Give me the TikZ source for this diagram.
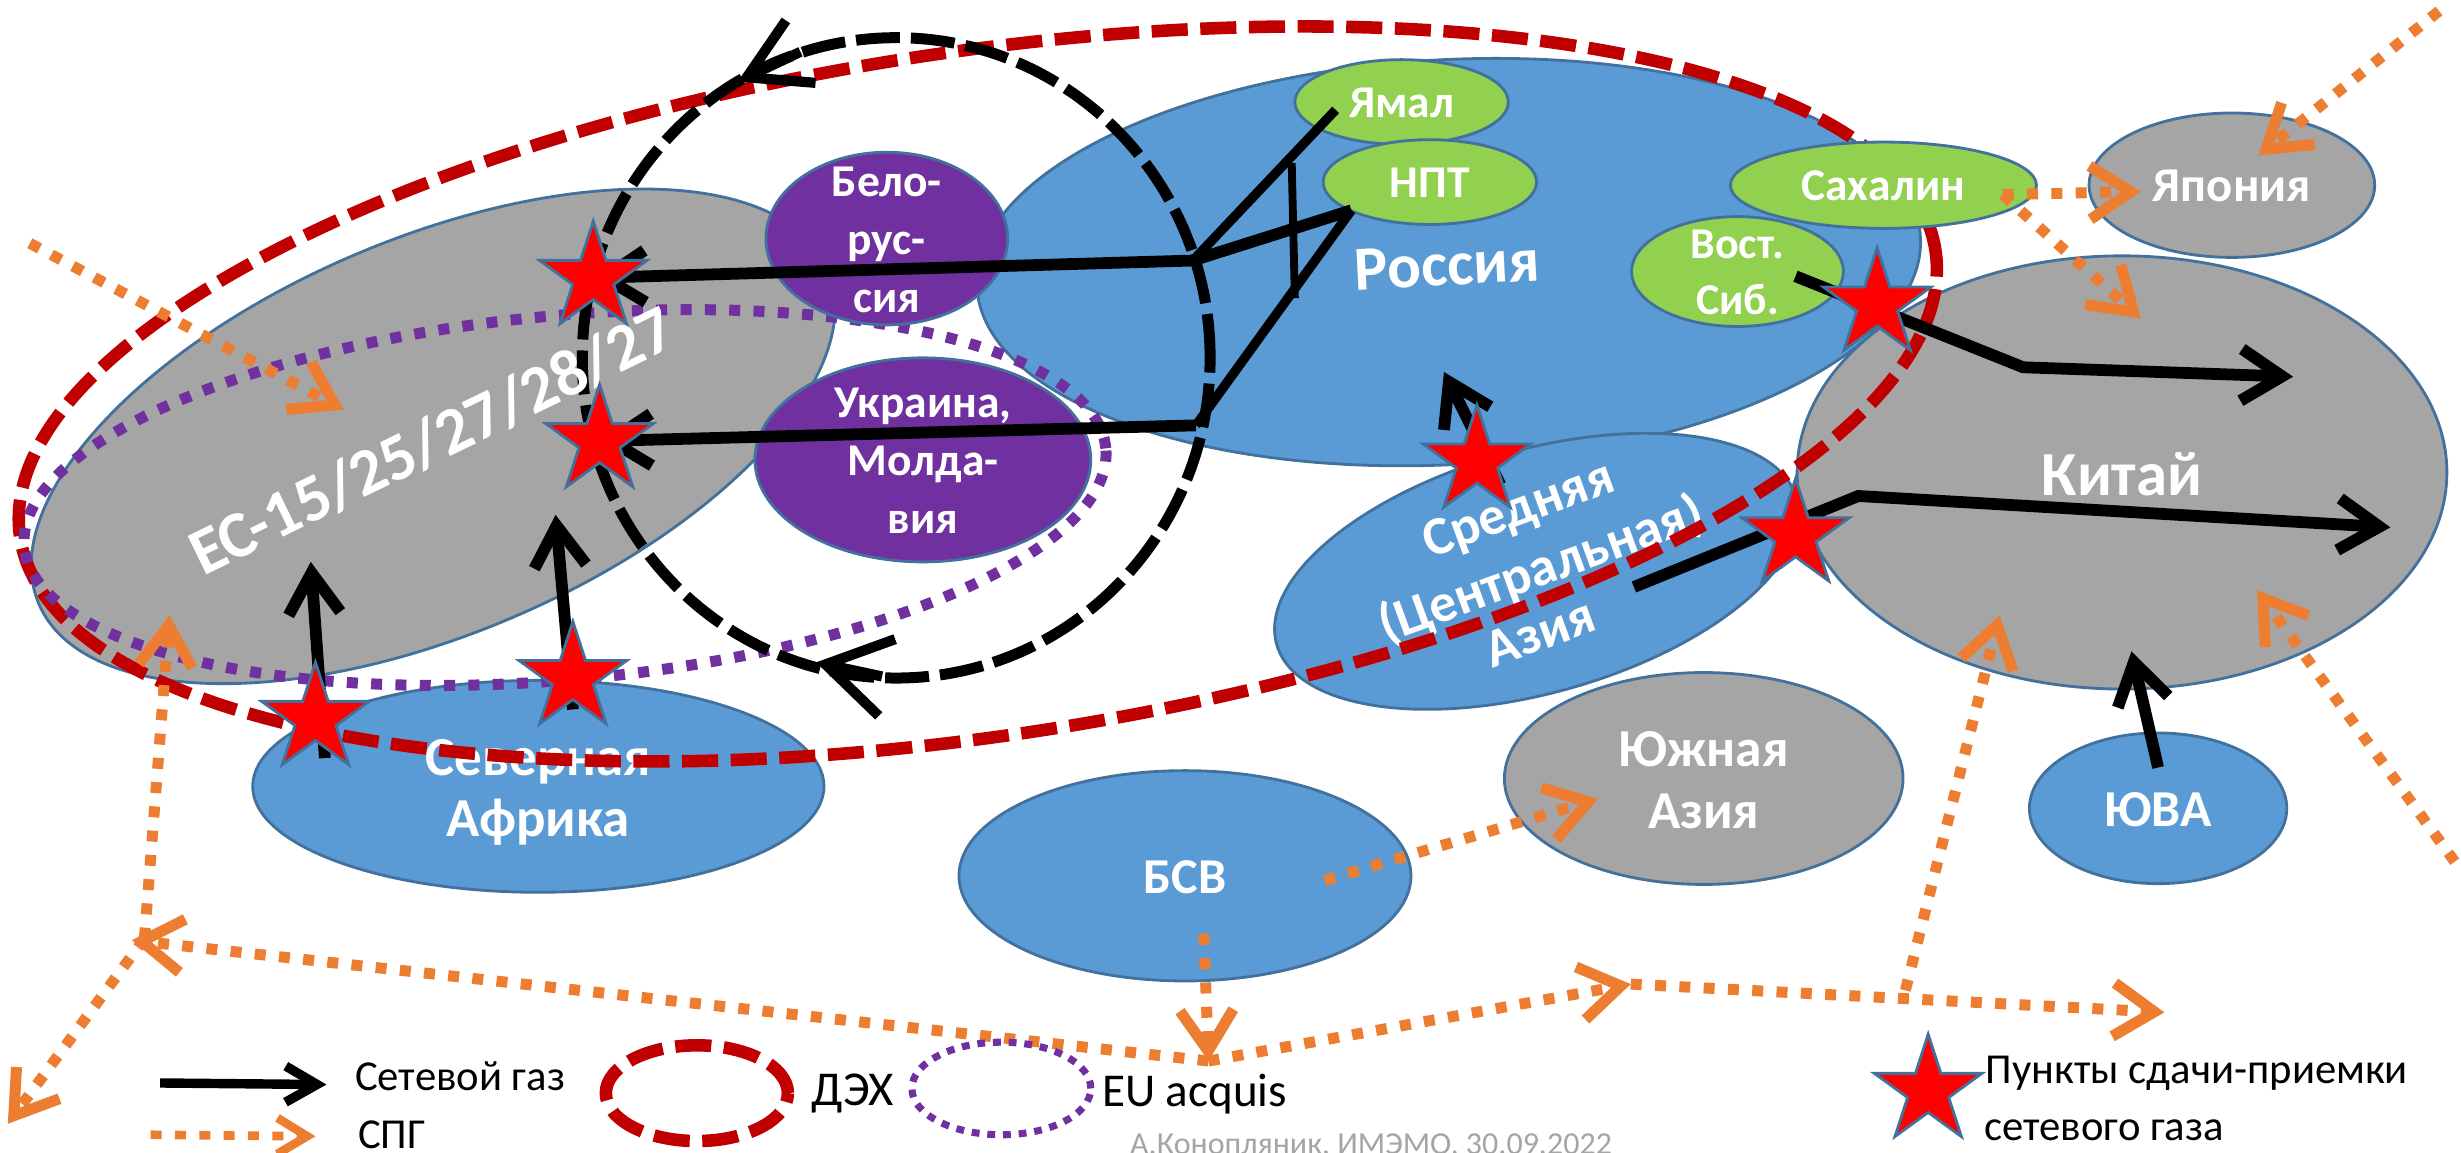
\documentclass[tikz,border=0pt]{standalone}
\usepackage{fontspec}
\setmainfont{Carlito}
\usetikzlibrary{shapes.geometric,arrows.meta}
\definecolor{blueF}{HTML}{5B9BD5}
\definecolor{grayF}{HTML}{A5A5A5}
\definecolor{purpF}{HTML}{7030A0}
\definecolor{greenF}{HTML}{92D050}
\definecolor{edgeC}{HTML}{41719C}
\definecolor{redC}{HTML}{C00000}
\definecolor{orangeC}{HTML}{ED7D31}
\newcommand{\ltxt}[3]{\smash{\makebox[0pt]{\fontsize{#1}{#2}\selectfont\bfseries\raisebox{-0.31em}{\begin{tabular}{@{}c@{}}#3\end{tabular}}}}}
\tikzset{
 region/.style={ellipse,draw=edgeC,line width=1.8pt,inner sep=0pt,text=white},
 bluereg/.style={region,fill=blueF},
 grayreg/.style={region,fill=grayF},
 purpreg/.style={region,fill=purpF},
 greenreg/.style={region,fill=greenF},
 gasstar/.style={star,star points=5,star point ratio=2.618,minimum size=72pt,inner sep=0pt,fill=red,draw=edgeC,line width=1.8pt},
 deh/.style={ellipse,draw=redC,line width=8pt,dash pattern=on 23pt off 8pt,inner sep=0pt},
 acquis/.style={ellipse,draw=purpF,line width=7pt,dash pattern=on 7pt off 8.5pt,inner sep=0pt},
 circd/.style={ellipse,draw=black,line width=7pt,dash pattern=on 28pt off 7pt,inner sep=0pt},
 gasline/.style={draw=black,line width=7.5pt,line join=miter},
 gasthin/.style={draw=black,line width=5pt},
 gasarr/.style={gasline,-{Straight Barb[length=26pt,width=33pt]}},
 lngline/.style={draw=orangeC,line width=7pt,dash pattern=on 7pt off 8.5pt},
 lngarr/.style={lngline,-{Straight Barb[length=26pt,width=34pt]}},
 legtxt/.style={text=black,inner sep=0pt,font=\fontsize{27.2}{34}\selectfont},
 casiatxt/.style={text=white,font=\fontsize{34.5}{38}\selectfont\bfseries,rotate=20,inner sep=0pt},
}
\begin{document}
\begin{tikzpicture}[x=1pt,y=-1pt]
\useasboundingbox (0,0) rectangle (1568,734.6);
% regions
\node[bluereg,minimum width=602pt,minimum height=258pt,rotate=3] (russia) at (923,167) {};
\node[grayreg,minimum width=546pt,minimum height=252pt,rotate=23] (eu) at (276,278) {};
\node[bluereg,minimum width=364pt,minimum height=135pt] (nafrica) at (343,501) {\ltxt{35}{39}{Северная\\Африка}};
\node[bluereg,minimum width=288pt,minimum height=134pt] (bsv) at (755,558) {\ltxt{32}{38}{БСВ}};
\node[grayreg,minimum width=254pt,minimum height=135pt] (sasia) at (1085.5,496) {\ltxt{34}{39}{Южная\\Азия}};
\node[bluereg,minimum width=164pt,minimum height=96pt] (yva) at (1375,515) {\ltxt{33}{38}{ЮВА}};
\node[grayreg,minimum width=182pt,minimum height=92pt] (japan) at (1422,118) {\ltxt{31}{36}{Япония}};
\node[bluereg,minimum width=344pt,minimum height=155pt,rotate=15.7] (casia) at (979,364) {};
\node[grayreg,minimum width=414pt,minimum height=276pt] (china) at (1352,301) {\ltxt{40}{44}{Китай}};
% labels under the red loop
\node[casiatxt] (casia1) at (968,326) {Средняя};
\node[casiatxt] (casia2) at (982,363) {(Центральная)};
\node[casiatxt] (casia3) at (981,403) {Азия};
\node[text=white,font=\fontsize{40}{44}\selectfont\bfseries,rotate=3,inner sep=0pt] (russiaT) at (922,169) {Россия};
% loops
\node[deh,minimum width=1234pt,minimum height=436pt,rotate=8.5] (dehloop) at (623,251) {};
\node[acquis,minimum width=692pt,minimum height=232pt,rotate=5.2] (acqloop) at (360,317) {};
% upper regions
\node[purpreg,minimum width=154pt,minimum height=110pt] (belarus) at (565,152) {\ltxt{29}{37}{Бело-\\рус-\\сия}};
\node[purpreg,minimum width=214pt,minimum height=130pt] (ukraine) at (588,293) {\ltxt{29}{37}{Украина,\\Молда-\\вия}};
\node[greenreg,minimum width=136pt,minimum height=54pt] (yamal) at (893,65) {\ltxt{29}{34}{Ямал}};
\node[greenreg,minimum width=136pt,minimum height=54pt] (npt) at (911,116) {\ltxt{29}{34}{НПТ}};
\node[greenreg,minimum width=195pt,minimum height=55pt] (sakhalin) at (1200,118) {\ltxt{29}{34}{Сахалин}};
\node[greenreg,minimum width=135pt,minimum height=70pt] (vsib) at (1107,173) {\ltxt{28}{36}{Вост.\\Сиб.}};
% black circle
\node[circd,minimum width=400pt,minimum height=408pt] (circ) at (571,228) {};
\node[text=white,font=\fontsize{42}{46}\selectfont\bfseries,rotate=26,inner sep=0pt] (euT) at (275,281) {ЕС-15/25/27/28/27};
% coordinates
\coordinate (s1) at (378,177);
\coordinate (s2) at (382,281);
\coordinate (s3) at (201,458);
\coordinate (s4) at (365,432);
\coordinate (s5) at (1196,194);
\coordinate (s6) at (941,294);
\coordinate (s7) at (1144,341);
\coordinate (hubA) at (760,166);
\coordinate (hubB) at (762,271);
\coordinate (yamalE) at (851,70);
\coordinate (nptE) at (861,134);
\coordinate (brA) at (823,104);
\coordinate (brB) at (825,190);
\coordinate (s3from) at (207,483);
\coordinate (s3to) at (198,358);
\coordinate (s4from) at (365,452);
\coordinate (s4to) at (354,328);
\coordinate (s6from) at (956,309);
\coordinate (s6to) at (920,237);
\coordinate (vsibS) at (1144,176);
\coordinate (vsibB) at (1289,234);
\coordinate (vsibT) at (1461,240);
\coordinate (caS) at (1041,374);
\coordinate (caB) at (1184,316);
\coordinate (caT) at (1523,336);
\coordinate (yvaS) at (1375,489);
\coordinate (yvaT) at (1358,415);
% circle arrowheads
\coordinate (cTopA) at (510,33);
\coordinate (cTopB) at (470,52);
\coordinate (cBotA) at (562,431);
\coordinate (cBotB) at (520,422);
\draw[gasline,line width=6.5pt,-{Straight Barb[length=38pt,width=44pt]}] (cTopA) -- (cTopB);
\draw[gasline,line width=6.5pt,-{Straight Barb[length=40pt,width=50pt]}] (cBotA) -- (cBotB);
% pipeline gas
\draw[gasarr] (hubA) -- (s1);
\draw[gasarr] (hubB) -- (s2);
\draw[gasline,line width=6pt] (yamalE) -- (hubA);
\draw[gasline] (nptE) -- (hubA);
\draw[gasline,line width=6pt] (nptE) -- (hubB);
\draw[gasthin] (brA) -- (brB);
\draw[gasarr] (s3from) -- (s3to);
\draw[gasarr] (s4from) -- (s4to);
\draw[gasarr] (s6from) -- (s6to);
\draw[gasarr] (vsibS) -- (vsibB) -- (vsibT);
\draw[gasarr] (caS) -- (caB) -- (caT);
\draw[gasarr] (yvaS) -- (yvaT);
% LNG
\coordinate (j1) at (84,599);
\coordinate (j2) at (770,676);
\coordinate (j3) at (1039,627);
\coordinate (j4) at (1214,631);
\coordinate (oA) at (19,155);
\coordinate (oAt) at (219,261);
\coordinate (oBs) at (92,598);
\coordinate (oBt) at (108,392);
\coordinate (oCt) at (5,716);
\coordinate (oDs) at (767,595);
\coordinate (oEt) at (1379,645);
\coordinate (oFt) at (1274,392);
\coordinate (oGs) at (1564,549);
\coordinate (oGt) at (1438,376);
\coordinate (oHs) at (1554,7);
\coordinate (oHt) at (1439,99);
\coordinate (oIs) at (1276,124);
\coordinate (oIt) at (1364,122);
\coordinate (oJt) at (1364,203);
\coordinate (oKs) at (844,561);
\coordinate (oKt) at (1018,509);
\draw[lngarr] (oA) -- (oAt);
\draw[lngarr] (oBs) -- (oBt);
\draw[lngarr] (j2) -- (j1);
\draw[lngarr] (oBs) -- (oCt);
\draw[lngarr] (oDs) -- (j2);
\draw[lngarr] (j2) -- (j3);
\draw[lngarr] (j3) -- (oEt);
\draw[lngarr] (j4) -- (oFt);
\draw[lngarr] (oGs) -- (oGt);
\draw[lngarr] (oHs) -- (oHt);
\draw[lngarr] (oIs) -- (oIt);
\draw[lngarr] (oIs) -- (oJt);
\draw[lngarr] (oKs) -- (oKt);
% stars
\node[gasstar] (st1) at (s1) {};
\node[gasstar] (st2) at (s2) {};
\node[gasstar] (st3) at (s3) {};
\node[gasstar] (st4) at (s4) {};
\node[gasstar] (st5) at (s5) {};
\node[gasstar] (st6) at (s6) {};
\node[gasstar] (st7) at (s7) {};
% legend
\coordinate (lgA) at (102,690);
\coordinate (lgB) at (208,691);
\coordinate (llA) at (96,723);
\coordinate (llB) at (201,724);
\draw[gasline,line width=6pt,-{Straight Barb[length=20pt,width=23pt]}] (lgA) -- (lgB);
\draw[lngline,line width=5.5pt,-{Straight Barb[length=19pt,width=23pt]}] (llA) -- (llB);
\node[legtxt,anchor=west] (tGas) at (226,686) {Сетевой газ};
\node[legtxt,anchor=west] (tLng) at (228,723) {СПГ};
\node[deh,minimum width=116pt,minimum height=61pt] (lgDeh) at (444,696.5) {};
\node[legtxt,anchor=west,font=\fontsize{31}{34}\selectfont] (tDeh) at (517,697) {ДЭХ};
\node[acquis,line width=4.5pt,dash pattern=on 5pt off 5pt,minimum width=114pt,minimum height=59pt] (lgAcq) at (638,693.5) {};
\node[legtxt,anchor=west,font=\fontsize{30}{34}\selectfont] (tAcq) at (702,697) {EU acquis};
\node[gasstar] (lgStar) at (1228.5,695) {};
\node[legtxt,anchor=west] (tStar1) at (1265,684) {Пункты сдачи-приемки};
\node[legtxt,anchor=west] (tStar2) at (1264,720) {сетевого газа};
\node[text=grayF,inner sep=0pt,font=\fontsize{20.4}{24}\selectfont] (tCred) at (873.5,730) {А.Конопляник, ИМЭМО, 30.09.2022};
\end{tikzpicture}
\end{document}
